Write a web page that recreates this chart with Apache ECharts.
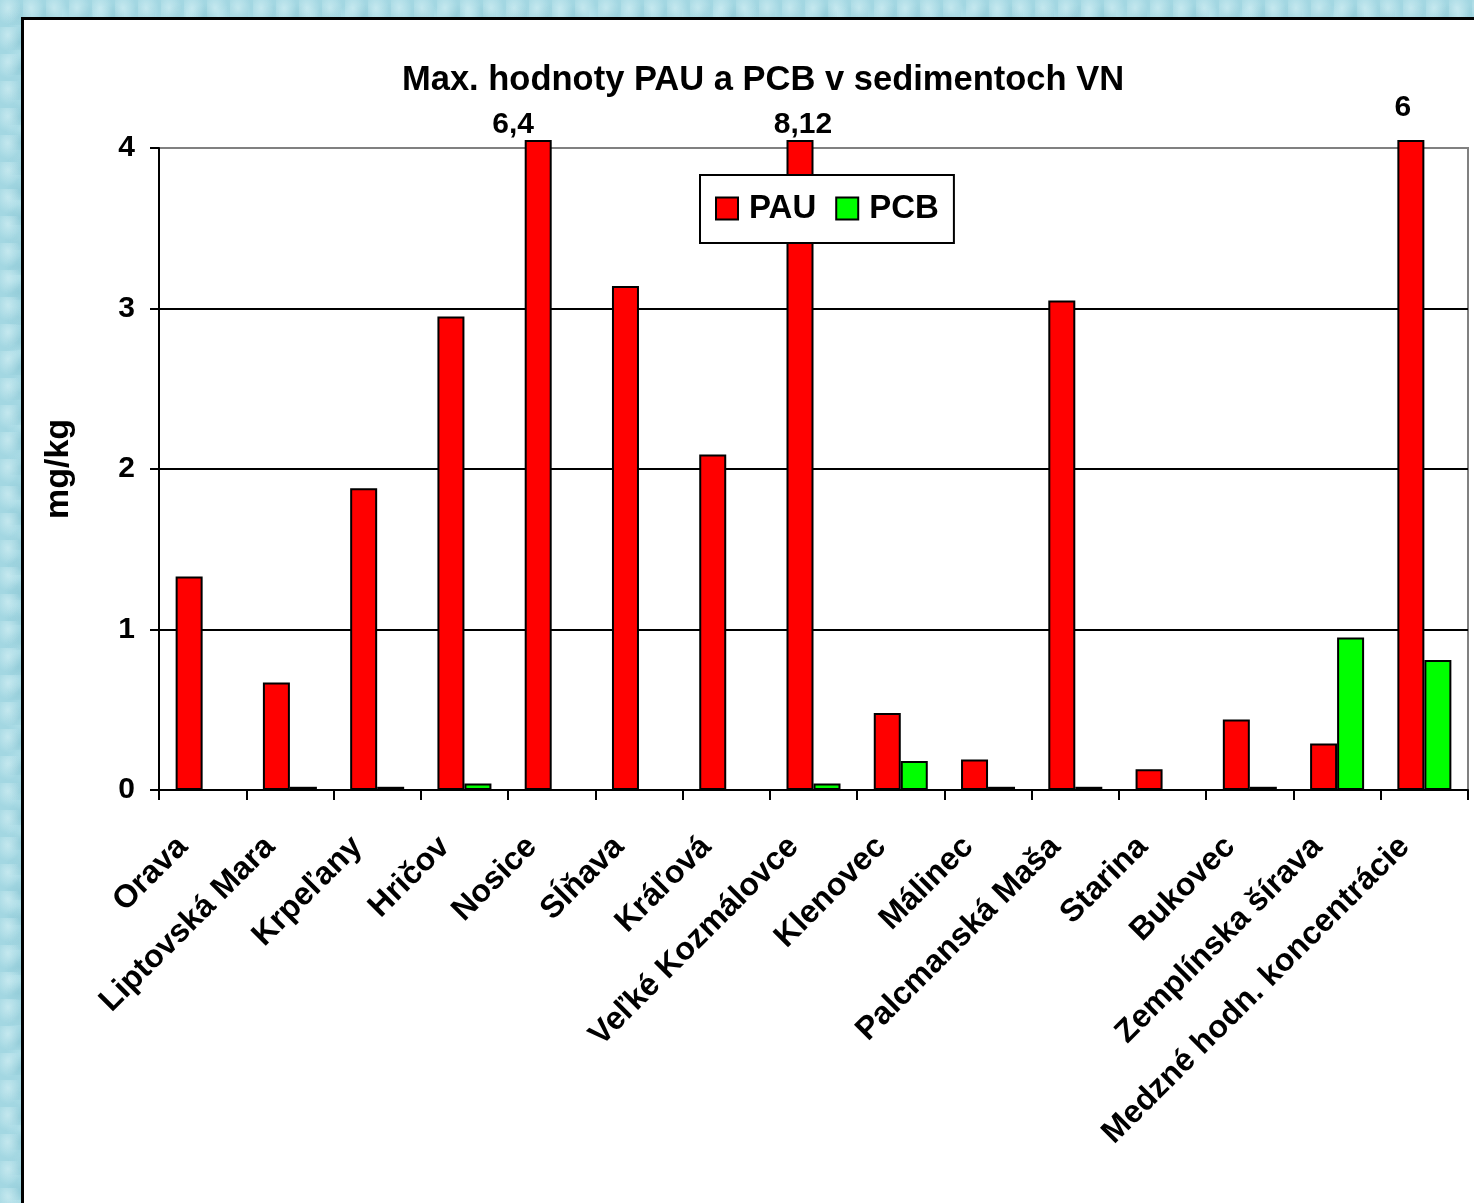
<!DOCTYPE html>
<html>
<head>
<meta charset="utf-8">
<title>Max. hodnoty PAU a PCB v sedimentoch VN</title>
<script src="https://cdn.jsdelivr.net/npm/echarts@6/dist/echarts.min.js"></script>
<style>
  html, body { margin: 0; padding: 0; width: 1474px; height: 1203px; overflow: hidden; }
  body {
    background-color: #a3d7e2;
    background-image:
      radial-gradient(ellipse at 35% 30%, rgba(225,247,250,0.55) 0, rgba(225,247,250,0) 60%),
      radial-gradient(ellipse at 65% 70%, rgba(120,185,200,0.35) 0, rgba(120,185,200,0) 55%),
      radial-gradient(ellipse at 50% 50%, rgba(200,238,244,0.35) 0, rgba(200,238,244,0) 50%);
    background-size: 23px 27px, 31px 25px, 41px 37px;
  }
  #frame { position: absolute; left: 21px; top: 17px; width: 1480px; height: 1210px; background: #fff; border: 3px solid #000; }
  #main { position: absolute; left: 0; top: 0; width: 1474px; height: 1203px; }
</style>
</head>
<body>
<div id="frame"></div>
<div id="main"></div>
<script>
// kategórie (vodné nádrže)
const categories = [
  'Orava', 'Liptovská Mara', 'Krpeľany', 'Hričov', 'Nosice', 'Sĺňava', 'Kráľová',
  'Veľké Kozmálovce', 'Klenovec', 'Málinec', 'Palcmanská Maša', 'Starina', 'Bukovec',
  'Zemplínska šírava', 'Medzné hodn. koncentrácie'
];
// max. hodnoty v mg/kg
const pauValues = [1.33, 0.67, 1.88, 2.95, 6.4, 3.14, 2.09, 8.12, 0.48, 0.19, 3.05, 0.13, 0.44, 0.29, 6];
const pcbValues = [null, 0.02, 0.02, 0.04, null, null, null, 0.04, 0.18, 0.02, 0.02, null, 0.02, 0.95, 0.81];
const yTicks = [0, 1, 2, 3, 4];

let chartDom = document.getElementById('main');
let myChart = echarts.init(chartDom, null, { renderer: 'canvas' });

const font = 'Liberation Sans, Arial, sans-serif';
const yMax = yTicks[yTicks.length - 1];
// stĺpce nad osou sú orezané tesne nad hornou čiarou, hodnota je napísaná nad nimi
const capTop = yMax + 0.05;
const overLabelOffset = { 4: [-25, 0], 7: [3, 0], 14: [-8, -17] };

const pauData = pauValues.map(function (v, i) {
  if (v > yMax) {
    return {
      value: capTop,
      label: {
        show: true,
        position: 'top',
        distance: 0,
        offset: overLabelOffset[i] || [0, 0],
        formatter: String(v).replace('.', ','),
        fontFamily: font,
        fontWeight: 'bold',
        fontSize: 30,
        color: '#000'
      }
    };
  }
  return v;
});

let option = {
  animation: false,
  textStyle: { fontFamily: font },
  title: {
    text: 'Max. hodnoty PAU a PCB v sedimentoch VN',
    left: 397,
    top: 58,
    textStyle: { fontFamily: font, fontWeight: 'bold', fontSize: 34.5, color: '#000' }
  },
  legend: {
    data: ['PAU', 'PCB'],
    left: 700,
    top: 175,
    padding: [17, 15, 18, 15],
    itemGap: 19,
    itemWidth: 22,
    itemHeight: 22,
    icon: 'rect',
    backgroundColor: '#fff',
    borderColor: '#000',
    borderWidth: 2,
    textStyle: { fontFamily: font, fontWeight: 'bold', fontSize: 33, color: '#000', padding: [0, 0, 0, 6] }
  },
  grid: {
    left: 159,
    right: 6,
    top: 148,
    bottom: 413,
    show: true,
    borderColor: '#808080',
    borderWidth: 2,
    backgroundColor: 'transparent'
  },
  xAxis: {
    type: 'category',
    data: categories,
    axisLine: { lineStyle: { color: '#000', width: 2 } },
    axisTick: { show: true, length: 10, lineStyle: { color: '#000', width: 2 } },
    axisLabel: {
      interval: 0,
      rotate: 45,
      margin: 32,
      padding: [0, 28, 0, 0],
      fontFamily: font,
      fontWeight: 'bold',
      fontSize: 32,
      color: '#000'
    },
    splitLine: { show: false }
  },
  yAxis: {
    type: 'value',
    min: 0,
    max: yMax,
    interval: 1,
    name: 'mg/kg',
    nameLocation: 'middle',
    nameRotate: 90,
    nameGap: 83,
    nameTextStyle: { fontFamily: font, fontWeight: 'bold', fontSize: 34, color: '#000' },
    axisLine: { show: true, lineStyle: { color: '#000', width: 2 } },
    axisTick: { show: true, length: 9, lineStyle: { color: '#000', width: 2 } },
    axisLabel: { margin: 24, fontFamily: font, fontWeight: 'bold', fontSize: 30, color: '#000' },
    splitLine: { show: true, showMaxLine: false, lineStyle: { color: '#000', width: 2 } }
  },
  series: [
    {
      name: 'PAU',
      type: 'bar',
      barWidth: 27,
      barGap: '0%',
      clip: false,
      itemStyle: { color: '#ff0000', borderColor: '#000', borderWidth: 2 },
      data: pauData
    },
    {
      name: 'PCB',
      type: 'bar',
      barWidth: 27,
      barGap: '0%',
      itemStyle: { color: '#00ff00', borderColor: '#000', borderWidth: 2 },
      data: pcbValues
    }
  ]
};

option && myChart.setOption(option);
</script>
</body>
</html>
